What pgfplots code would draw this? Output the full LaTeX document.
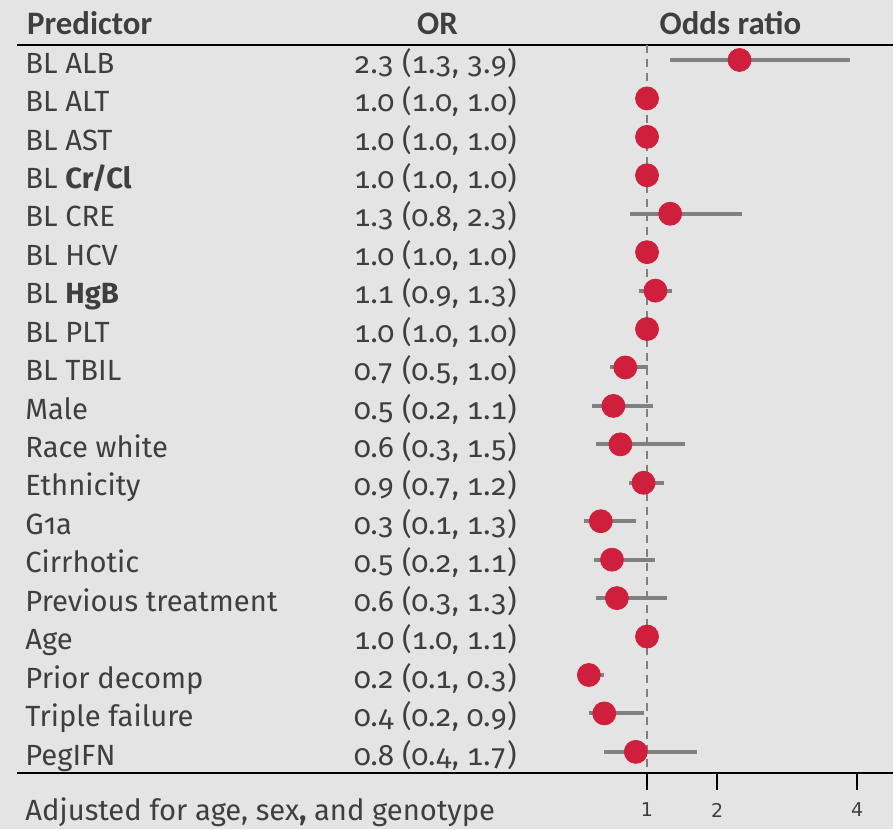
\documentclass[border=0pt]{standalone}
\usepackage{pgfplots}
\pgfplotsset{compat=1.18}
\usepackage{pgfplotstable}
\usepackage{fontspec}
\setmainfont{Fira Sans}[Numbers=OldStyle]
\newfontfamily\numfont{Fira Sans}[Numbers={OldStyle,Monospaced}]
\newfontfamily\headfont{Carlito}
\newfontfamily\tickfont{DejaVu Sans}
\definecolor{bg}{HTML}{E4E4E4}
\definecolor{txt}{HTML}{3F3F3F}
\definecolor{dot}{HTML}{D01F3C}
\definecolor{ci}{HTML}{808080}

\pgfplotstableread{
row or lo hi
1 2.32 1.33 3.89
2 1.00 1.00 1.00
3 1.00 1.00 1.00
4 1.00 1.00 1.00
5 1.33 0.75 2.35
6 1.00 1.00 1.00
7 1.12 0.89 1.35
8 1.00 1.00 1.00
9 0.69 0.47 1.02
10 0.52 0.22 1.08
11 0.62 0.27 1.54
12 0.95 0.74 1.24
13 0.34 0.10 0.84
14 0.50 0.24 1.12
15 0.57 0.27 1.28
16 1.00 1.00 1.00
17 0.17 0.12 0.39
18 0.39 0.17 0.95
19 0.84 0.39 1.71
}\data

\tikzset{body/.style={text=txt, inner sep=0pt, font=\fontsize{14.6}{16}\selectfont},
  nums/.style={text=txt, inner sep=0pt, font=\numfont\fontsize{14.8}{16}\selectfont},
  head/.style={text=txt, inner sep=0pt, font=\headfont\bfseries\fontsize{16.4}{18}\selectfont}}

\begin{document}
\begin{tikzpicture}[x=0.5pt,y=0.5pt]
\path[use as bounding box, fill=bg] (-17,-56) rectangle (876,773);
\begin{axis}[at={(0,0)}, anchor=south west, scale only axis,
  width=438pt, height=364pt,
  xmin=-7.99, xmax=4.51, ymin=-19.55, ymax=-0.61,
  axis x line*=bottom, axis y line=none,
  x axis line style={black, line width=1pt},
  xtick={1,2,4}, ytick=\empty,
  tick align=outside, major tick length=8.5pt,
  x tick style={black, line width=1pt},
  /pgf/number format/assume math mode=true,
  xticklabel style={font=\tickfont\fontsize{9.5}{10}\selectfont, text=txt, yshift=-3pt},
  clip=false,
]
\draw[black, line width=1.4pt] (axis cs:-7.99,-0.61) -- (axis cs:4.51,-0.61);
\draw[ci, line width=0.8pt, dash pattern=on 4pt off 3pt] (axis cs:1,-0.61) -- (axis cs:1,-19.55);
\addplot[draw=none, mark=none, forget plot,
  error bars/.cd, x dir=both, x explicit, error mark=none,
  error bar style={ci, line width=2pt}]
  table[x=or, y expr=-\thisrow{row}, x error plus expr=\thisrow{hi}-\thisrow{or}, x error minus expr=\thisrow{or}-\thisrow{lo}] {\data};
\addplot[only marks, mark=*, mark size=5.75pt, mark options={fill=dot, draw=dot}]
  table[x=or, y expr=-\thisrow{row}] {\data};
% headers
\node[head, anchor=base west] at (axis cs:-7.85,-0.01) [yshift=-6.3pt] {Predictor};
\node[head, anchor=base] at (axis cs:-1.99,-0.01) [yshift=-6.3pt] {OR};
\node[head, anchor=base] at (axis cs:2.19,-0.01) [yshift=-6.3pt] {Odds ratio};
% predictor names
\begin{scope}[every node/.style={body, anchor=base west, yshift=-6.6pt}]
\node at (axis cs:-7.876,-1) {BL ALB};
\node at (axis cs:-7.876,-2) {BL ALT};
\node at (axis cs:-7.876,-3) {BL AST};
\node at (axis cs:-7.876,-4) {BL \textbf{Cr/Cl}};
\node at (axis cs:-7.876,-5) {BL CRE};
\node at (axis cs:-7.876,-6) {BL HCV};
\node at (axis cs:-7.876,-7) {BL \textbf{HgB}};
\node at (axis cs:-7.876,-8) {BL PLT};
\node at (axis cs:-7.876,-9) {BL TBIL};
\node at (axis cs:-7.876,-10) {Male};
\node at (axis cs:-7.876,-11) {Race white};
\node at (axis cs:-7.876,-12) {Ethnicity};
\node at (axis cs:-7.876,-13) {G1a};
\node at (axis cs:-7.876,-14) {Cirrhotic};
\node at (axis cs:-7.876,-15) {Previous treatment};
\node at (axis cs:-7.876,-16) {Age};
\node at (axis cs:-7.876,-17) {Prior decomp};
\node at (axis cs:-7.876,-18) {Triple failure};
\node at (axis cs:-7.876,-19) {PegIFN};
\node at (axis cs:-7.876,-20.43) {Adjusted for age, sex\textbf{,} and genotype};
\end{scope}
\begin{scope}[every node/.style={nums, anchor=base, yshift=-6.6pt}]
\node at (axis cs:-2.02,-1) {2.3 (1.3, 3.9)};
\node at (axis cs:-2.02,-2) {1.0 (1.0, 1.0)};
\node at (axis cs:-2.02,-3) {1.0 (1.0, 1.0)};
\node at (axis cs:-2.02,-4) {1.0 (1.0, 1.0)};
\node at (axis cs:-2.02,-5) {1.3 (0.8, 2.3)};
\node at (axis cs:-2.02,-6) {1.0 (1.0, 1.0)};
\node at (axis cs:-2.02,-7) {1.1 (0.9, 1.3)};
\node at (axis cs:-2.02,-8) {1.0 (1.0, 1.0)};
\node at (axis cs:-2.02,-9) {0.7 (0.5, 1.0)};
\node at (axis cs:-2.02,-10) {0.5 (0.2, 1.1)};
\node at (axis cs:-2.02,-11) {0.6 (0.3, 1.5)};
\node at (axis cs:-2.02,-12) {0.9 (0.7, 1.2)};
\node at (axis cs:-2.02,-13) {0.3 (0.1, 1.3)};
\node at (axis cs:-2.02,-14) {0.5 (0.2, 1.1)};
\node at (axis cs:-2.02,-15) {0.6 (0.3, 1.3)};
\node at (axis cs:-2.02,-16) {1.0 (1.0, 1.1)};
\node at (axis cs:-2.02,-17) {0.2 (0.1, 0.3)};
\node at (axis cs:-2.02,-18) {0.4 (0.2, 0.9)};
\node at (axis cs:-2.02,-19) {0.8 (0.4, 1.7)};
\end{scope}
\end{axis}
\end{tikzpicture}
\end{document}
